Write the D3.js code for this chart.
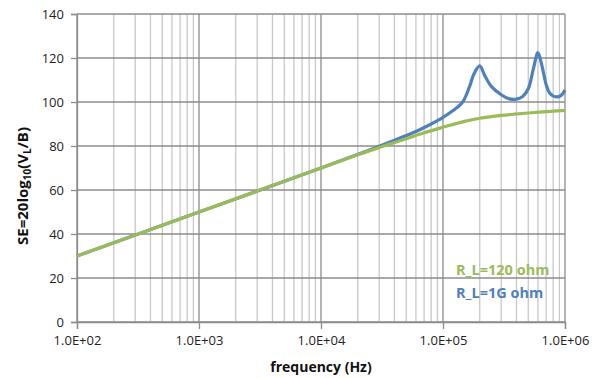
<!DOCTYPE html>
<meta charset="utf-8">
<style>
body { margin: 0; background: #fff; }
text { font-family: "Open Sans", sans-serif; }
.tick text { font-size: 13px; fill: #222; }
.title { font-size: 14px; font-weight: bold; fill: #111; }
.legend { font-size: 14.5px; font-weight: bold; }
</style>
<body>
<script src="https://cdn.jsdelivr.net/npm/d3@7"></script>
<script>

// ---- data ----
var freqTicks = [1e2, 1e3, 1e4, 1e5, 1e6];
var seTicks = [0, 20, 40, 60, 80, 100, 120, 140];

// R_L = 120 ohm
var freq120 = [1e2, 1e3, 1e4, 2e4, 3e4, 5e4, 7e4, 1e5, 1.5e5, 2e5, 3e5, 5e5, 7e5, 1e6];
var se120   = [30, 50, 70, 76, 79.3, 83.3, 86, 88.5, 91.2, 92.6, 93.9, 95.0, 95.6, 96.2];

// R_L = 1G ohm
var freq1G = [1e2, 1e3, 1e4, 2.5e4, 4e4, 6e4, 8e4, 1e5, 1.2e5, 1.45e5, 1.65e5, 1.8e5, 2e5,
              2.2e5, 2.5e5, 3e5, 3.5e5, 4e5, 4.5e5, 5e5, 5.5e5, 6e5, 6.5e5, 7e5, 7.5e5, 8.5e5, 9.3e5, 1e6];
var se1G   = [30, 50, 70, 78.2, 82.6, 86.6, 90, 93, 96, 100, 107, 113, 116.4,
              112, 107, 103.3, 101.4, 101.3, 102.5, 106, 115, 122.4, 116, 108, 104, 102.3, 103, 105.5];

var seriesNames = ["R_L=120 ohm", "R_L=1G ohm"];
var seriesColors = ["#9bbb59", "#4f81bd"];

// ---- layout ----
var W = 594, H = 378;
var margin = {left: 77, right: 29, top: 14, bottom: 56};
var w = W - margin.left - margin.right,
    h = H - margin.top - margin.bottom;

var svg = d3.select("body").append("svg").attr("width", W).attr("height", H);
var g = svg.append("g").attr("transform", "translate(" + margin.left + "," + margin.top + ")");

var x = d3.scaleLog().domain([1e2, 1e6]).range([0, w]);
var y = d3.scaleLinear().domain([0, 140]).range([h, 0]);

// minor vertical grid (2..9 in each decade)
var minor = [];
for (var d = 1e2; d < 1e6; d *= 10) {
  for (var k = 2; k <= 9; k++) minor.push(d * k);
}
g.selectAll(".minor").data(minor).enter().append("line")
  .attr("x1", function(v){ return x(v); }).attr("x2", function(v){ return x(v); })
  .attr("y1", 0).attr("y2", h)
  .attr("stroke", "#c8c8c8").attr("stroke-width", 1.3);

// major vertical grid
g.selectAll(".major").data(freqTicks).enter().append("line")
  .attr("x1", function(v){ return x(v); }).attr("x2", function(v){ return x(v); })
  .attr("y1", 0).attr("y2", h)
  .attr("stroke", "#8c8c8c").attr("stroke-width", 1.3);

// horizontal grid
g.selectAll(".hgrid").data(seTicks).enter().append("line")
  .attr("x1", 0).attr("x2", w)
  .attr("y1", function(v){ return y(v); }).attr("y2", function(v){ return y(v); })
  .attr("stroke", "#8c8c8c").attr("stroke-width", 1.3);

// axes
var xAxis = d3.axisBottom(x).tickValues(freqTicks).tickSize(7).tickPadding(7)
  .tickFormat(function(v){ return "1.0E+0" + Math.round(Math.log10(v)); });
var gx = g.append("g").attr("transform", "translate(0," + h + ")").call(xAxis);
gx.select(".domain").attr("stroke", "#8c8c8c").attr("stroke-width", 1.3);
gx.selectAll(".tick line").attr("stroke", "#8c8c8c").attr("stroke-width", 1.3);

var yAxis = d3.axisLeft(y).tickValues(seTicks).tickSize(6).tickPadding(7);
var gy = g.append("g").call(yAxis);
gy.select(".domain").attr("stroke", "#8c8c8c").attr("stroke-width", 1.3);
gy.selectAll(".tick line").attr("stroke", "#8c8c8c").attr("stroke-width", 1.3);
gy.selectAll(".tick text").attr("dy", "0.36em");

// series lines (smoothed like the spreadsheet chart)
var line = d3.line()
  .x(function(p){ return x(p[0]); })
  .y(function(p){ return y(p[1]); })
  .curve(d3.curveCatmullRom.alpha(0.5));

var data1G = freq1G.map(function(f, i){ return [f, se1G[i]]; });
var data120 = freq120.map(function(f, i){ return [f, se120[i]]; });

g.append("path").datum(data1G).attr("d", line)
  .attr("fill", "none").attr("stroke", seriesColors[1]).attr("stroke-width", 3.2)
  .attr("stroke-linejoin", "round");
g.append("path").datum(data120).attr("d", line)
  .attr("fill", "none").attr("stroke", seriesColors[0]).attr("stroke-width", 3.2)
  .attr("stroke-linejoin", "round");

// legend
svg.selectAll(".legend").data(seriesNames).enter().append("text")
  .attr("class", "legend")
  .attr("x", 456)
  .attr("y", function(d, i){ return 275 + i * 23; })
  .attr("fill", function(d, i){ return seriesColors[i]; })
  .text(function(d){ return d; });

// axis titles
svg.append("text").attr("class", "title")
  .attr("x", margin.left + w / 2).attr("y", 372)
  .attr("text-anchor", "middle")
  .text("frequency (Hz)");

var yt = svg.append("text").attr("class", "title")
  .style("font-size", "15px")
  .attr("transform", "translate(28,186) rotate(-90)")
  .attr("text-anchor", "middle");
yt.append("tspan").text("SE=20log");
yt.append("tspan").attr("font-size", "10px").attr("dy", 3).text("10");
yt.append("tspan").attr("dy", -3).text("(V");
yt.append("tspan").attr("font-size", "10px").attr("dy", 3).text("L");
yt.append("tspan").attr("dy", -3).text("/B)");

</script>
</body>
